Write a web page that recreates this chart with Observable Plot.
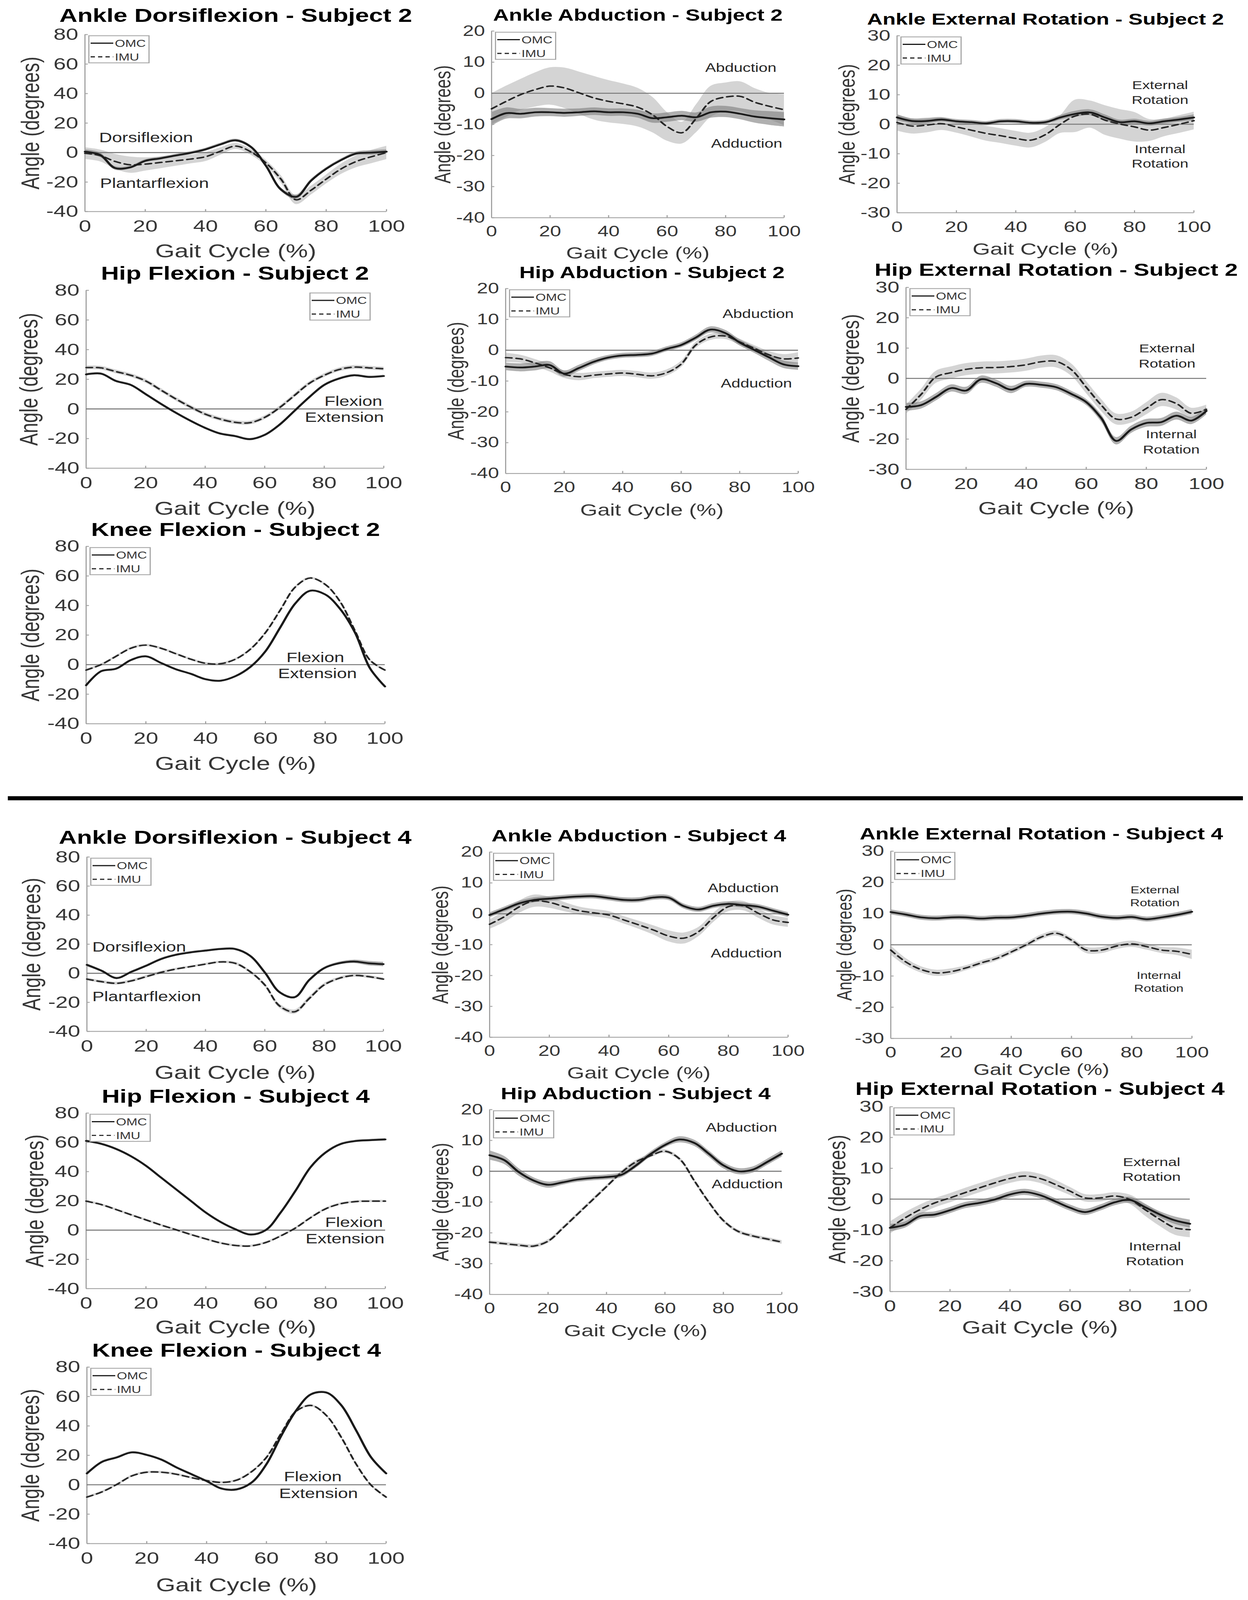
<!DOCTYPE html>
<html><head><meta charset="utf-8">
<script src="https://cdn.jsdelivr.net/npm/d3@7"></script>
<script src="https://cdn.jsdelivr.net/npm/@observablehq/plot@0.6"></script>
<style>
html,body{margin:0;padding:0;background:#fff;overflow:hidden;}
#page{position:relative;width:3195px;height:5486px;background:#fff;overflow:hidden;transform-origin:0 0;font-family:"Liberation Sans",Arial,Helvetica,sans-serif;}
.legend{position:absolute;box-sizing:border-box;border:3px solid #a8a8a8;background:#fff;}
.divider{position:absolute;background:#000;}
</style></head><body><div id="page"></div>
<script>
// ---------- shared axes ----------
const gaitCycle = [0,5,10,15,20,25,30,35,40,45,50,55,60,65,70,75,80,85,90,95,100];
const xTicks = [0,20,40,60,80,100];
const flexDomain = [-40,80];
const flexTicks = [-40,-20,0,20,40,60,80];
const abdDomain = [-40,20];
const abdTicks = [-40,-30,-20,-10,0,10,20];
const rotDomain = [-30,30];
const rotTicks = [-30,-20,-10,0,10,20,30];
const legendLabels = ["OMC","IMU"];
const xLabel = "Gait Cycle (%)";
const yLabel = "Angle (degrees)";

// ---------- Subject 2 ----------
const s2AnkleDorsiOMC   = [0.6,-1.5,-10.5,-10,-5.6,-3.9,-2,-0.2,2.2,5.6,8.3,3.9,-8.9,-25,-30,-19,-11,-5,-0.6,0,0.6];
const s2AnkleDorsiOMCsd = [1.5,1.5,1.2,1,1,1,1,1,1,1,1,1,1,1.2,1.5,1.2,1,1,1.2,1.5,1.5];
const s2AnkleDorsiIMU   = [-0.5,-2,-6,-8.3,-7.8,-6.7,-5.6,-4.4,-2.8,1,4.4,0.5,-7,-18,-32,-25.5,-18,-11,-6,-2.8,0];
const s2AnkleDorsiIMUsd = [4,4,5,5.5,4.5,4,3.5,3,3,2.5,2,2,2,2.5,3,3,3,3.5,4,4.5,4.5];

const s2AnkleAbdOMC   = [-8.3,-6.4,-6.6,-6.1,-6.1,-6.3,-6.1,-5.8,-6.1,-6.1,-6.6,-8,-7.7,-7.2,-7.7,-6.1,-5.9,-6.6,-7.5,-8,-8.4];
const s2AnkleAbdOMCsd = [2.2,1.8,1.5,1.4,1.3,1.3,1.2,1.2,1.2,1.2,1.3,1.5,1.5,1.5,1.5,1.8,1.8,1.8,2,2.2,2.3];
const s2AnkleAbdIMU   = [-5,-2.6,-0.4,1.2,2.3,1.7,0.1,-1.5,-2.6,-3.4,-4.5,-6.9,-10.7,-12.7,-8,-2.6,-1.2,-1,-2.9,-4.2,-5.3];
const s2AnkleAbdIMUsd = [5,5,5,5.5,6,6.5,6.8,7,6.8,6.5,6.2,5.7,4.6,3.5,4.5,5,4.6,4.8,4.5,4.3,5];

const s2AnkleRotOMC   = [2.3,1.1,1.1,1.6,1,0.7,0.3,1,1,0.5,0.7,2.3,3.5,4,2.3,0.7,1,0.3,1,1.6,2.3];
const s2AnkleRotOMCsd = [1,0.8,0.8,0.7,0.7,0.7,0.7,0.7,0.7,0.7,0.7,0.8,1,1,1,0.8,0.8,0.8,0.8,0.8,1];
const s2AnkleRotIMU   = [0.6,-0.6,-0.3,0.2,-0.9,-2,-3.1,-3.9,-4.8,-5.4,-3.5,0,2.8,3.4,1.4,0.1,-0.9,-2,-1.1,0,1.2];
const s2AnkleRotIMUsd = [2.8,2.6,2.5,2.2,2,2.2,2.5,2.5,2.5,2.5,2.5,3,5.5,4.6,5,5,5,3.7,3,3,3];

const s2HipFlexOMC   = [23.3,23.8,18.9,16.2,10,3.6,-2.4,-7.9,-12.8,-16.6,-18.3,-20.4,-17.5,-10.6,-1.3,8,16.2,20.5,22.7,21.6,22.2];
const s2HipFlexOMCsd = [0.8,0.8,0.8,0.8,0.8,0.8,0.8,0.8,0.8,0.8,0.8,0.8,0.8,0.8,0.8,0.8,0.8,0.8,0.8,0.8,0.8];
const s2HipFlexIMU   = [27.9,27.7,25.2,22.7,18.9,12.9,6.9,1.4,-3.5,-6.8,-9,-9.3,-5.7,0.9,9.1,17.3,22.7,26.6,28.2,27.7,27.1];
const s2HipFlexIMUsd = [1.3,1.3,1.3,1.3,1.3,1.3,1.3,1.3,1.3,1.3,1.3,1.3,1.3,1.3,1.3,1.3,1.3,1.3,1.3,1.3,1.3];

const s2HipAbdOMC   = [-5.3,-5.6,-5.3,-4.8,-7.6,-5.8,-3.8,-2.4,-1.7,-1.5,-1.1,0.4,1.7,4.1,6.7,5.6,2.5,0.1,-2.3,-4.6,-5.2];
const s2HipAbdOMCsd = [1.2,1.3,1.3,1.2,1,1,0.9,0.8,0.8,0.8,0.8,0.8,0.8,0.9,1,1,1,1,1.2,1.2,1.2];
const s2HipAbdIMU   = [-2.4,-2.8,-4.1,-5.7,-7.8,-8.6,-8.1,-7.7,-7.4,-7.8,-8.3,-7.3,-4.5,1.7,4.3,4.6,2.7,0.6,-1.5,-2.8,-2.5];
const s2HipAbdIMUsd = [1.5,1.3,1.2,1.2,1.2,1.2,1,1,1,1,1,1,1,1,1,1,1,1,1.2,1.5,1.8];

const s2HipRotOMC   = [-9.4,-8.8,-6.1,-3.2,-4,-0.3,-1.6,-3.7,-1.8,-2.1,-2.9,-5.1,-7.8,-13.1,-20.6,-16.8,-14.7,-14.4,-12.3,-13.9,-10.7];
const s2HipRotOMCsd = [1.3,1.2,1.2,1.2,1.2,1.2,1.2,1.2,1,1,1,1,1,1.2,1.2,1.2,1.3,1.3,1.3,1.2,1.2];
const s2HipRotIMU   = [-10.2,-5.3,0.5,1.9,3,3.5,3.6,3.9,4.5,5.5,5.6,2.9,-2.9,-8.8,-13.4,-12.8,-9.9,-7,-8.3,-11.5,-10.2];
const s2HipRotIMUsd = [1.5,1.8,2,2,2,2,2,2,2,2,2,2,2,2,1.8,1.8,2,2.2,2,1.8,1.5];

const s2KneeOMC   = [-14,-4.5,-2.8,3.1,5.6,1.2,-3.1,-6.2,-9.9,-10.9,-7.8,-1.5,9,25.3,41.4,50,47.5,37.7,21.6,-2.5,-14.8];
const s2KneeOMCsd = [0.7,0.7,0.7,0.7,0.7,0.7,0.7,0.7,0.7,0.7,0.7,0.7,0.7,0.7,0.7,0.7,0.7,0.7,0.7,0.7,0.7];
const s2KneeIMU   = [-3.7,0,5.6,11.1,13.2,11.1,7.4,3.7,0.9,0.6,3.7,10.5,21.6,37,52.5,58.6,54.3,42.6,22.8,3,-3.7];
const s2KneeIMUsd = [0.8,0.8,0.8,0.8,0.8,0.8,0.8,0.8,0.8,0.8,0.8,0.8,0.8,0.8,0.8,0.8,0.8,0.8,0.8,0.8,0.8];

// ---------- Subject 4 ----------
const s4AnkleDorsiOMC   = [5.8,1.7,-3.3,1,5.2,9.8,12.7,14.4,15.6,16.7,16.7,12.1,0.6,-13,-16.5,-4.6,3.5,6.9,8.1,6.9,6.3];
const s4AnkleDorsiOMCsd = [1,0.8,0.8,0.8,0.8,0.8,0.8,0.8,0.8,0.8,0.8,0.8,0.8,0.8,0.8,0.8,0.8,1,1.2,1.5,1.5];
const s4AnkleDorsiIMU   = [-4,-5.8,-6.9,-5.2,-2.3,0.6,2.9,4.6,6.3,7.8,6.9,1.2,-8,-22.5,-26.5,-17.3,-8,-3.5,-1.5,-2.3,-4];
const s4AnkleDorsiIMUsd = [1,1,1,1,1,1,0.8,0.8,0.8,0.8,1,1,1.2,1.5,1.5,1.5,1.2,1,1,1,1];

const s4AnkleAbdOMC   = [-0.4,1.5,3.4,4.5,4.9,5.3,5.6,5.7,5.1,4.5,4.5,5.3,5.2,2.5,1.4,2.6,3.2,2.8,2.3,1,-0.3];
const s4AnkleAbdOMCsd = [0.8,0.8,0.8,0.8,0.8,0.8,0.8,0.8,0.8,0.8,0.8,0.8,0.8,0.8,0.8,0.8,0.8,0.8,0.8,0.8,0.8];
const s4AnkleAbdIMU   = [-3.4,-0.9,2.3,4.2,3.7,2.3,1,0.3,-0.4,-2,-3.6,-5.3,-7.2,-7.9,-5.8,-1.2,2.3,2.6,0.2,-2,-2.8];
const s4AnkleAbdIMUsd = [1.5,1.8,2,2,1.8,1.5,1.3,1.2,1.2,1.2,1.3,1.5,1.8,1.8,1.5,1.5,1.5,1.5,1.5,1.5,1.5];

const s4AnkleRotOMC   = [10.5,9.7,8.8,8.5,8.8,8.8,8.4,8.7,8.8,9.3,10,10.5,10.6,10,9,8.6,8.9,8.2,8.8,9.6,10.6];
const s4AnkleRotOMCsd = [0.8,0.8,0.8,0.8,0.8,0.8,0.8,0.8,0.8,0.8,0.8,0.8,0.8,0.8,0.8,0.8,0.8,0.8,0.8,0.8,0.8];
const s4AnkleRotIMU   = [-1.7,-5.5,-7.9,-9,-8.6,-7.4,-5.8,-4.4,-2.3,0,2.5,3.7,1.5,-1.7,-1.7,-0.4,0.3,-0.6,-1.7,-2.1,-3.1];
const s4AnkleRotIMUsd = [1.5,1.2,1,1,1,0.8,0.8,0.8,0.8,0.8,0.8,0.8,0.8,1,1,1,1,1,1,1.2,1.5];

const s4HipFlexOMC   = [61,59,55.5,50.5,44,36,28,20,12,5.5,0.5,-3,0,12,27,43,53,58.8,60.9,61.5,62];
const s4HipFlexOMCsd = [0.8,0.8,0.8,0.8,0.8,0.8,0.8,0.8,0.8,0.8,0.8,0.8,0.8,0.8,0.8,0.8,0.8,0.8,0.8,0.8,0.8];
const s4HipFlexIMU   = [19.8,17.5,14.1,10.5,7,3.5,0.3,-3,-6,-8.8,-10.5,-10.8,-8.5,-4,1.5,8.5,14.5,18,19.5,19.8,19.8];
const s4HipFlexIMUsd = [0.8,0.8,0.8,0.8,0.8,0.8,0.8,0.8,0.8,0.8,0.8,0.8,0.8,0.8,0.8,0.8,0.8,0.8,0.8,0.8,0.8];

const s4HipAbdOMC   = [5.2,3.6,-0.3,-3,-4.4,-3.6,-2.7,-2.2,-1.9,-1.2,1.8,5.5,8.5,10.3,9.2,5.7,1.9,0,0.5,3,5.7];
const s4HipAbdOMCsd = [1.5,1.3,1.2,1,1,0.8,0.8,0.8,0.8,0.8,0.8,0.8,0.8,1,1,1,1,1,1,1,1];
const s4HipAbdIMU   = [-23,-23.5,-24,-24.3,-22.7,-18.5,-14,-9.5,-5,-0.5,3,5,6.5,4,-3,-10,-16,-19.5,-21,-22,-23];
const s4HipAbdIMUsd = [0.6,0.6,0.6,0.6,0.6,0.6,0.6,0.6,0.6,0.6,0.6,0.6,0.6,0.6,0.6,0.6,0.6,0.6,0.6,0.6,0.6];

const s4HipRotOMC   = [-9.3,-8.3,-5.5,-5,-3.6,-2,-1.2,-0.1,1.5,2.3,1.3,-0.7,-2.8,-4.2,-2.8,-1,-0.3,-2.6,-5,-6.9,-8];
const s4HipRotOMCsd = [1.2,1,1,1,1,1,1,1,1,1,1,1,1,1,1,1,1,1,1,1.2,1.3];
const s4HipRotIMU   = [-9.3,-6.1,-3.4,-1.2,0.4,2.1,3.7,5.3,6.7,7.5,6.7,4.8,2.6,0.4,0.4,1,-0.1,-3.4,-6.6,-9.3,-9.9];
const s4HipRotIMUsd = [2,1.8,1.6,1.5,1.5,1.5,1.5,1.5,1.5,1.5,1.5,1.5,1.3,1.2,1.2,1.2,1.5,2,2.2,2.3,2.5];

const s4KneeOMC   = [7.7,15.5,18.6,22,20.3,17,11.7,7.1,2.5,-2.6,-3.2,1.4,14,33.5,50.7,61.6,62.7,54.1,36.9,18.6,7.7];
const s4KneeOMCsd = [0.8,0.8,0.8,0.8,0.8,0.8,0.8,0.8,0.8,0.8,0.8,0.8,0.8,0.8,0.8,0.8,0.8,0.8,0.8,0.8,0.8];
const s4KneeIMU   = [-8.4,-4.9,0.2,6,8.5,8.5,7.1,4.8,2.8,1.6,3.1,8.8,18.6,35.2,50.1,53.9,47.2,32.3,14,-0.3,-8.4];
const s4KneeIMUsd = [0.8,0.8,0.8,0.8,0.8,0.8,0.8,0.8,0.8,0.8,0.8,0.8,0.8,0.8,0.8,0.8,0.8,0.8,0.8,0.8,0.8];

// ---------- annotation labels (data coordinates) ----------
const s2AnkleDorsiNotes = [{text:"Dorsiflexion",x:4.7,y:10},{text:"Plantarflexion",x:5,y:-21}];
const s2AnkleAbdNotes   = [{text:"Abduction",x:85.2,y:8.1},{text:"Adduction",x:87.2,y:-16.2}];
const s2AnkleRotNotes   = [{text:"External",x:88.6,y:13.1},{text:"Rotation",x:88.6,y:8.1},{text:"Internal",x:88.6,y:-8.5},{text:"Rotation",x:88.6,y:-13.5}];
const s2HipFlexNotes    = [{text:"Flexion",x:99.5,y:4.9},{text:"Extension",x:100,y:-5.8}];
const s2HipAbdNotes     = [{text:"Abduction",x:86.3,y:11.7},{text:"Adduction",x:85.7,y:-10.8}];
const s2HipRotNotes     = [{text:"External",x:86.9,y:9.8},{text:"Rotation",x:86.9,y:4.8},{text:"Internal",x:88.3,y:-18.5},{text:"Rotation",x:88.3,y:-23.6}];
const s2KneeNotes       = [{text:"Flexion",x:76.7,y:4.6},{text:"Extension",x:77.4,y:-6.2}];
const s4AnkleDorsiNotes = [{text:"Dorsiflexion",x:1.8,y:18},{text:"Plantarflexion",x:1.8,y:-16.3}];
const s4AnkleAbdNotes   = [{text:"Abduction",x:85,y:8.2},{text:"Adduction",x:86,y:-12.9}];
const s4AnkleRotNotes   = [{text:"External",x:87.7,y:17.5},{text:"Rotation",x:87.7,y:13.4},{text:"Internal",x:89,y:-9.9},{text:"Rotation",x:89,y:-14}];
const s4HipFlexNotes    = [{text:"Flexion",x:99.2,y:5},{text:"Extension",x:99.7,y:-6}];
const s4HipAbdNotes     = [{text:"Abduction",x:86.2,y:14.1},{text:"Adduction",x:88.2,y:-4.3}];
const s4HipRotNotes     = [{text:"External",x:87.2,y:12},{text:"Rotation",x:87.2,y:7.2},{text:"Internal",x:88.3,y:-15.4},{text:"Rotation",x:88.3,y:-20.3}];
const s4KneeNotes       = [{text:"Flexion",x:75.5,y:5.4},{text:"Extension",x:77.4,y:-6.1}];

const FONT = '"Liberation Sans", Arial, Helvetica, sans-serif';

// panel layout (page pixels of the plotting area) and per-panel text sizes
const panels = [
  {title:"Ankle Dorsiflexion - Subject 2", omc:s2AnkleDorsiOMC, omcSd:s2AnkleDorsiOMCsd, imu:s2AnkleDorsiIMU, imuSd:s2AnkleDorsiIMUsd, yDomain:flexDomain, yTicks:flexTicks, notes:s2AnkleDorsiNotes, anchor:"start", noteSize:46, legend:"left", xlab:157, ylab:-138, tdy:-44, fs:[64,57,64], box:{L:217,R:989,T:118,B:725}},
  {title:"Ankle Abduction - Subject 2", omc:s2AnkleAbdOMC, omcSd:s2AnkleAbdOMCsd, imu:s2AnkleAbdIMU, imuSd:s2AnkleAbdIMUsd, yDomain:abdDomain, yTicks:abdTicks, notes:s2AnkleAbdNotes, anchor:"middle", noteSize:41, legend:"left", xlab:140, ylab:-124, tdy:-36, fs:[56,51,57], box:{L:1258,R:2007,T:106,B:746}},
  {title:"Ankle External Rotation - Subject 2", omc:s2AnkleRotOMC, omcSd:s2AnkleRotOMCsd, imu:s2AnkleRotIMU, imuSd:s2AnkleRotIMUsd, yDomain:rotDomain, yTicks:rotTicks, notes:s2AnkleRotNotes, anchor:"middle", noteSize:39, legend:"left", xlab:144, ylab:-127, tdy:-38, fs:[55,53,58], box:{L:2296,R:3056,T:122,B:729}},
  {title:"Hip Flexion - Subject 2", omc:s2HipFlexOMC, omcSd:s2HipFlexOMCsd, imu:s2HipFlexIMU, imuSd:s2HipFlexIMUsd, yDomain:flexDomain, yTicks:flexTicks, notes:s2HipFlexNotes, anchor:"end", noteSize:46, legend:"right", xlab:160, ylab:-145, tdy:-36, fs:[64,57,64], box:{L:220,R:982,T:995,B:1605}},
  {title:"Hip Abduction - Subject 2", omc:s2HipAbdOMC, omcSd:s2HipAbdOMCsd, imu:s2HipAbdIMU, imuSd:s2HipAbdIMUsd, yDomain:abdDomain, yTicks:abdTicks, notes:s2HipAbdNotes, anchor:"middle", noteSize:41, legend:"left", xlab:144, ylab:-126, tdy:-36, fs:[56,51,57], box:{L:1294,R:2043,T:989,B:1623}},
  {title:"Hip External Rotation - Subject 2", omc:s2HipRotOMC, omcSd:s2HipRotOMCsd, imu:s2HipRotIMU, imuSd:s2HipRotIMUsd, yDomain:rotDomain, yTicks:rotTicks, notes:s2HipRotNotes, anchor:"middle", noteSize:39, legend:"left", xlab:155, ylab:-140, tdy:-40, fs:[60,55,62], box:{L:2319,R:3088,T:985,B:1609}},
  {title:"Knee Flexion - Subject 2", omc:s2KneeOMC, omcSd:s2KneeOMCsd, imu:s2KneeIMU, imuSd:s2KneeIMUsd, yDomain:flexDomain, yTicks:flexTicks, notes:s2KneeNotes, anchor:"middle", noteSize:46, legend:"left", xlab:159, ylab:-141, tdy:-36, fs:[64,57,64], box:{L:220,R:985,T:1873,B:2481}},
  {title:"Ankle Dorsiflexion - Subject 4", omc:s4AnkleDorsiOMC, omcSd:s4AnkleDorsiOMCsd, imu:s4AnkleDorsiIMU, imuSd:s4AnkleDorsiIMUsd, yDomain:flexDomain, yTicks:flexTicks, notes:s4AnkleDorsiNotes, anchor:"start", noteSize:46, legend:"left", xlab:163, ylab:-140, tdy:-46, fs:[64,57,64], box:{L:222,R:981,T:2938,B:3536}},
  {title:"Ankle Abduction - Subject 4", omc:s4AnkleAbdOMC, omcSd:s4AnkleAbdOMCsd, imu:s4AnkleAbdIMU, imuSd:s4AnkleAbdIMUsd, yDomain:abdDomain, yTicks:abdTicks, notes:s4AnkleAbdNotes, anchor:"middle", noteSize:41, legend:"left", xlab:142, ylab:-125, tdy:-36, fs:[57,51,57], box:{L:1253,R:2017,T:2921,B:3556}},
  {title:"Ankle External Rotation - Subject 4", omc:s4AnkleRotOMC, omcSd:s4AnkleRotOMCsd, imu:s4AnkleRotIMU, imuSd:s4AnkleRotIMUsd, yDomain:rotDomain, yTicks:rotTicks, notes:s4AnkleRotNotes, anchor:"middle", noteSize:34, legend:"left", xlab:126, ylab:-118, tdy:-40, fs:[56,52,54], box:{L:2280,R:3051,T:2918,B:3560}},
  {title:"Hip Flexion - Subject 4", omc:s4HipFlexOMC, omcSd:s4HipFlexOMCsd, imu:s4HipFlexIMU, imuSd:s4HipFlexIMUsd, yDomain:flexDomain, yTicks:flexTicks, notes:s4HipFlexNotes, anchor:"end", noteSize:46, legend:"left", xlab:154, ylab:-130, tdy:-36, fs:[64,57,64], box:{L:220,R:986,T:3816,B:4418}},
  {title:"Hip Abduction - Subject 4", omc:s4HipAbdOMC, omcSd:s4HipAbdOMCsd, imu:s4HipAbdIMU, imuSd:s4HipAbdIMUsd, yDomain:abdDomain, yTicks:abdTicks, notes:s4HipAbdNotes, anchor:"middle", noteSize:41, legend:"left", xlab:143, ylab:-124, tdy:-36, fs:[57,51,57], box:{L:1253,R:2001,T:3804,B:4438}},
  {title:"Hip External Rotation - Subject 4", omc:s4HipRotOMC, omcSd:s4HipRotOMCsd, imu:s4HipRotIMU, imuSd:s4HipRotIMUsd, yDomain:rotDomain, yTicks:rotTicks, notes:s4HipRotNotes, anchor:"middle", noteSize:40, legend:"left", xlab:144, ylab:-134, tdy:-40, fs:[61,55,62], box:{L:2278,R:3046,T:3794,B:4428}},
  {title:"Knee Flexion - Subject 4", omc:s4KneeOMC, omcSd:s4KneeOMCsd, imu:s4KneeIMU, imuSd:s4KneeIMUsd, yDomain:flexDomain, yTicks:flexTicks, notes:s4KneeNotes, anchor:"middle", noteSize:46, legend:"left", xlab:164, ylab:-143, tdy:-36, fs:[64,57,64], box:{L:222,R:988,T:4687,B:5292}}
];

const page = document.getElementById("page");

// the design is 3195 x 5486; fit it to the real viewport if it is smaller
const sx = Math.min(1, window.innerWidth / 3195);
const sy = Math.min(1, window.innerHeight / 5486);
page.style.transform = `scale(${sx}, ${sy})`;

function makePanel(p) {
  const mL = 200, mR = 80, mT = 115, mB = 190;
  const w = p.box.R - p.box.L, h = p.box.B - p.box.T;
  const [yMin, yMax] = p.yDomain;
  const [titleSize, tickSize, labelSize] = p.fs;
  const rows = gaitCycle.map((x, i) => ({
    x,
    omc: p.omc[i], omcLo: p.omc[i] - p.omcSd[i], omcHi: p.omc[i] + p.omcSd[i],
    imu: p.imu[i], imuLo: p.imu[i] - p.imuSd[i], imuHi: p.imu[i] + p.imuSd[i]
  }));
  const axisColor = "#a3a3a3";
  const svg = Plot.plot({
    width: w + mL + mR, height: h + mT + mB,
    marginLeft: mL, marginRight: mR, marginTop: mT, marginBottom: mB,
    style: {fontFamily: FONT, fontSize: tickSize + "px", color: "#363636", background: "transparent", overflow: "visible"},
    x: {domain: [0, 100], ticks: xTicks, tickSize: 0, tickPadding: 28, tickFormat: d => String(d), label: null},
    y: {domain: p.yDomain, ticks: p.yTicks, tickSize: 0, tickPadding: 17, tickFormat: d => String(d), label: null},
    marks: [
      Plot.areaY(rows, {x: "x", y1: "imuLo", y2: "imuHi", fill: "#cdcdcd", fillOpacity: 0.85, curve: "catmull-rom"}),
      Plot.areaY(rows, {x: "x", y1: "omcLo", y2: "omcHi", fill: "#7c7c7c", fillOpacity: 0.6, curve: "catmull-rom"}),
      Plot.ruleX([0], {stroke: axisColor, strokeWidth: 3}),
      Plot.ruleY([yMin], {stroke: axisColor, strokeWidth: 3}),
      Plot.ruleX(xTicks, {x: d => d, y1: yMin, y2: yMin + (yMax - yMin) * 0.013, stroke: axisColor, strokeWidth: 3}),
      Plot.ruleY(p.yTicks, {y: d => d, x1: 0, x2: 1.0, stroke: axisColor, strokeWidth: 3}),
      Plot.ruleY([0], {stroke: "#7a7a7a", strokeWidth: 3.5}),
      Plot.line(rows, {x: "x", y: "imu", stroke: "#262626", strokeWidth: 5, strokeDasharray: "16,11", curve: "catmull-rom"}),
      Plot.line(rows, {x: "x", y: "omc", stroke: "#1a1a1a", strokeWidth: 6, curve: "catmull-rom"}),
      Plot.text(p.notes, {x: "x", y: "y", text: "text", textAnchor: p.anchor, lineAnchor: "middle", fontSize: p.noteSize, fill: "#262626"}),
      Plot.text([p.title], {frameAnchor: "top", dy: p.tdy, lineAnchor: "bottom", fontSize: titleSize, fontWeight: "bold", fill: "#000"}),
      Plot.text([xLabel], {frameAnchor: "bottom", dy: p.xlab, lineAnchor: "bottom", fontSize: labelSize, fill: "#363636"}),
      Plot.text([yLabel], {frameAnchor: "left", dx: p.ylab, rotate: -90, lineAnchor: "middle", textAnchor: "middle", fontSize: labelSize, fill: "#363636"})
    ]
  });
  svg.style.position = "absolute";
  svg.style.left = (p.box.L - mL) + "px";
  svg.style.top = (p.box.T - mT) + "px";
  svg.style.maxWidth = "none";
  page.appendChild(svg);
}

function addLegend(p) {
  const W = 157, H = 96;
  const left = p.legend === "right" ? p.box.R - 190 : p.box.L + 9;
  const top = p.box.T + (p.legend === "right" ? 8 : 3);
  const div = document.createElement("div");
  div.className = "legend";
  Object.assign(div.style, {left: left + "px", top: top + "px", width: W + "px", height: H + "px"});
  div.innerHTML =
    `<svg width="${W - 6}" height="${H - 6}" style="display:block">
      <line x1="3" x2="61" y1="24" y2="24" stroke="#1a1a1a" stroke-width="4"/>
      <text x="65" y="24" dy="0.36em" font-size="34" fill="#363636" font-family='${FONT}'>${legendLabels[0]}</text>
      <line x1="3" x2="61" y1="71" y2="71" stroke="#262626" stroke-width="4" stroke-dasharray="11,8"/>
      <text x="65" y="71" dy="0.36em" font-size="34" fill="#363636" font-family='${FONT}'>${legendLabels[1]}</text>
    </svg>`;
  page.appendChild(div);
}

panels.forEach(makePanel);
panels.forEach(addLegend);

const divider = document.createElement("div");
divider.className = "divider";
Object.assign(divider.style, {left: "20px", top: "2730px", width: "3162px", height: "14px"});
page.appendChild(divider);
</script>
</body></html>
